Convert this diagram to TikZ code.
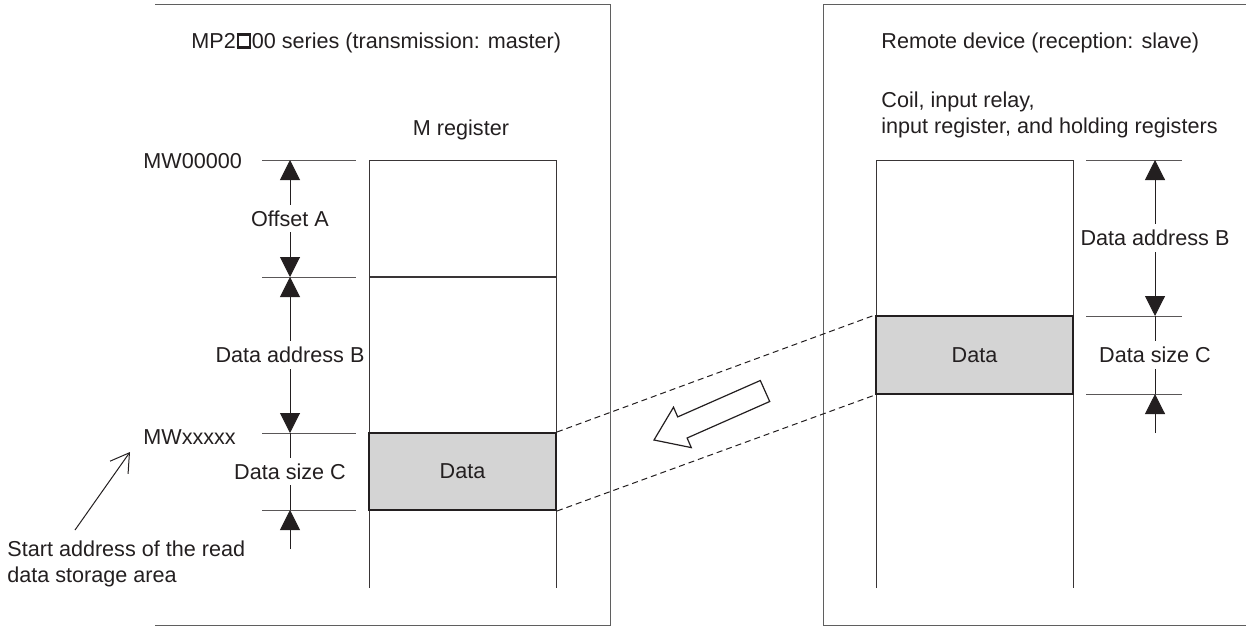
\documentclass[tikz,border=0pt]{standalone}
\usepackage{fontspec}
\setmainfont{Liberation Sans}
\definecolor{inkgray}{RGB}{35,31,32}
\definecolor{framegray}{RGB}{95,95,95}
\definecolor{datafill}{RGB}{212,212,212}
\usepackage{tikz}
\usetikzlibrary{arrows.meta,positioning,calc}
\newcommand{\seriesbox}{\kern0.04em\raisebox{0.1em}{\setlength{\fboxsep}{0pt}\setlength{\fboxrule}{0.1em}\fbox{\rule{0pt}{0.5em}\rule{0.46em}{0pt}}}\kern0.04em}

\begin{document}
\begin{tikzpicture}[x=0.5pt,y=-0.5pt,
    every node/.style={font=\fontsize{10.8}{12.8}\selectfont, text=inkgray, inner sep=1pt},
    frameline/.style={draw=framegray, line width=0.5pt},
    regline/.style={draw=inkgray!90, line width=0.5pt},
    datacell/.style={draw=inkgray, line width=1pt, fill=datafill, inner sep=0pt},
    tickline/.style={draw=inkgray!75, line width=0.5pt},
    dimline/.style={draw=inkgray, line width=0.5pt},
    dimboth/.style={dimline, {Triangle[length=10pt,width=10pt]}-{Triangle[length=10pt,width=10pt]}},
    dimend/.style={dimline, -{Triangle[length=10pt,width=10pt]}},
    dimlabel/.style={fill=white, inner xsep=0pt, inner ysep=3pt},
    linkdash/.style={draw=inkgray, line width=0.5pt, dash pattern=on 3pt off 2pt},
    pointer/.style={draw=inkgray, line width=0.5pt, -{Straight Barb[length=9pt,width=11pt]}}]
    \useasboundingbox (0,0) rectangle (1246,627);

    % frames
    \draw[frameline] (155,4) -- (610,4) -- (610,625) -- (155,625);
    \draw[frameline] (1246,4) -- (823,4) -- (823,625) -- (1246,625);

    \node[anchor=west] (mtitle) at (189,43) {MP2\seriesbox00 series (transmission: master)};
    \node[anchor=west] (rtitle) at (879,43) {Remote device (reception: slave)};
    \node (mreg) at (461,130) {M register};
    \node[anchor=west, align=left] (rreg) at (879,115) {Coil, input relay,\\input register, and holding registers};

    % left dimensions
    \coordinate (la0) at (290,160);
    \coordinate (la1) at (290,277);
    \coordinate (la2) at (290,433);
    \coordinate (la3) at (290,510);
    \coordinate (la4) at (290,549);
    \foreach \c in {la0,la1,la2,la3}
        \draw[tickline] ([xshift=-14pt]\c) -- ([xshift=33pt]\c);
    \draw[dimboth] (la0) -- node[dimlabel] (offa) {Offset A} (la1);
    \draw[dimboth] (la1) -- node[dimlabel] (ladrb) {Data address B} (la2);
    \draw[dimline] (la2) -- node[dimlabel] (lsizec) {Data size C} (la3);
    \draw[dimend] (la4) -- (la3);

    \node[anchor=west] (mw0) at (141,161) {MW00000};
    \node[anchor=west] (mwx) at (141,437) {MWxxxxx};
    \node[anchor=west, align=left] (startaddr) at (5,564) {Start address of the read\\data storage area};
    \coordinate (ptrtail) at (75,530);
    \coordinate (ptrtip) at (130,452);
    \draw[pointer] (ptrtail) -- (ptrtip);

    % M register
    \draw[regline] (369,588) -- (369,160) -- (556,160) -- (556,588);
    \draw[regline, line width=0.8pt] (369,277) -- (556,277);
    \node[datacell, minimum width=93.5pt, minimum height=38.5pt] (ldata) at (462.5,471.5) {Data};

    % right dimensions
    \coordinate (rb0) at (1155,160);
    \coordinate (rb1) at (1155,316);
    \coordinate (rb2) at (1155,394);
    \coordinate (rb3) at (1155,433);
    \foreach \c in {rb0,rb1,rb2}
        \draw[tickline] ([xshift=-34.5pt]\c) -- ([xshift=13.5pt]\c);
    \draw[dimboth] (rb0) -- node[dimlabel] (radrb) {Data address B} (rb1);
    \draw[dimline] (rb1) -- node[dimlabel] (rsizec) {Data size C} (rb2);
    \draw[dimend] (rb3) -- (rb2);

    % remote registers
    \draw[regline] (876,588) -- (876,160) -- (1073,160) -- (1073,588);
    \node[datacell, minimum width=98.5pt, minimum height=39pt] (rdata) at (974.5,355) {Data};

    \draw[linkdash] (ldata.north east) -- (rdata.north west);
    \draw[linkdash] (ldata.south east) -- (rdata.south west);

    % transfer arrow
    \draw[inkgray, line width=0.6pt, fill=white, line join=miter] (654,440) -- (673.5,407.2) -- (677.7,416.9)
        -- (760.3,380.5) -- (769.7,401.5) -- (687.1,438) -- (691.3,447.6) -- cycle;
\end{tikzpicture}
\end{document}
